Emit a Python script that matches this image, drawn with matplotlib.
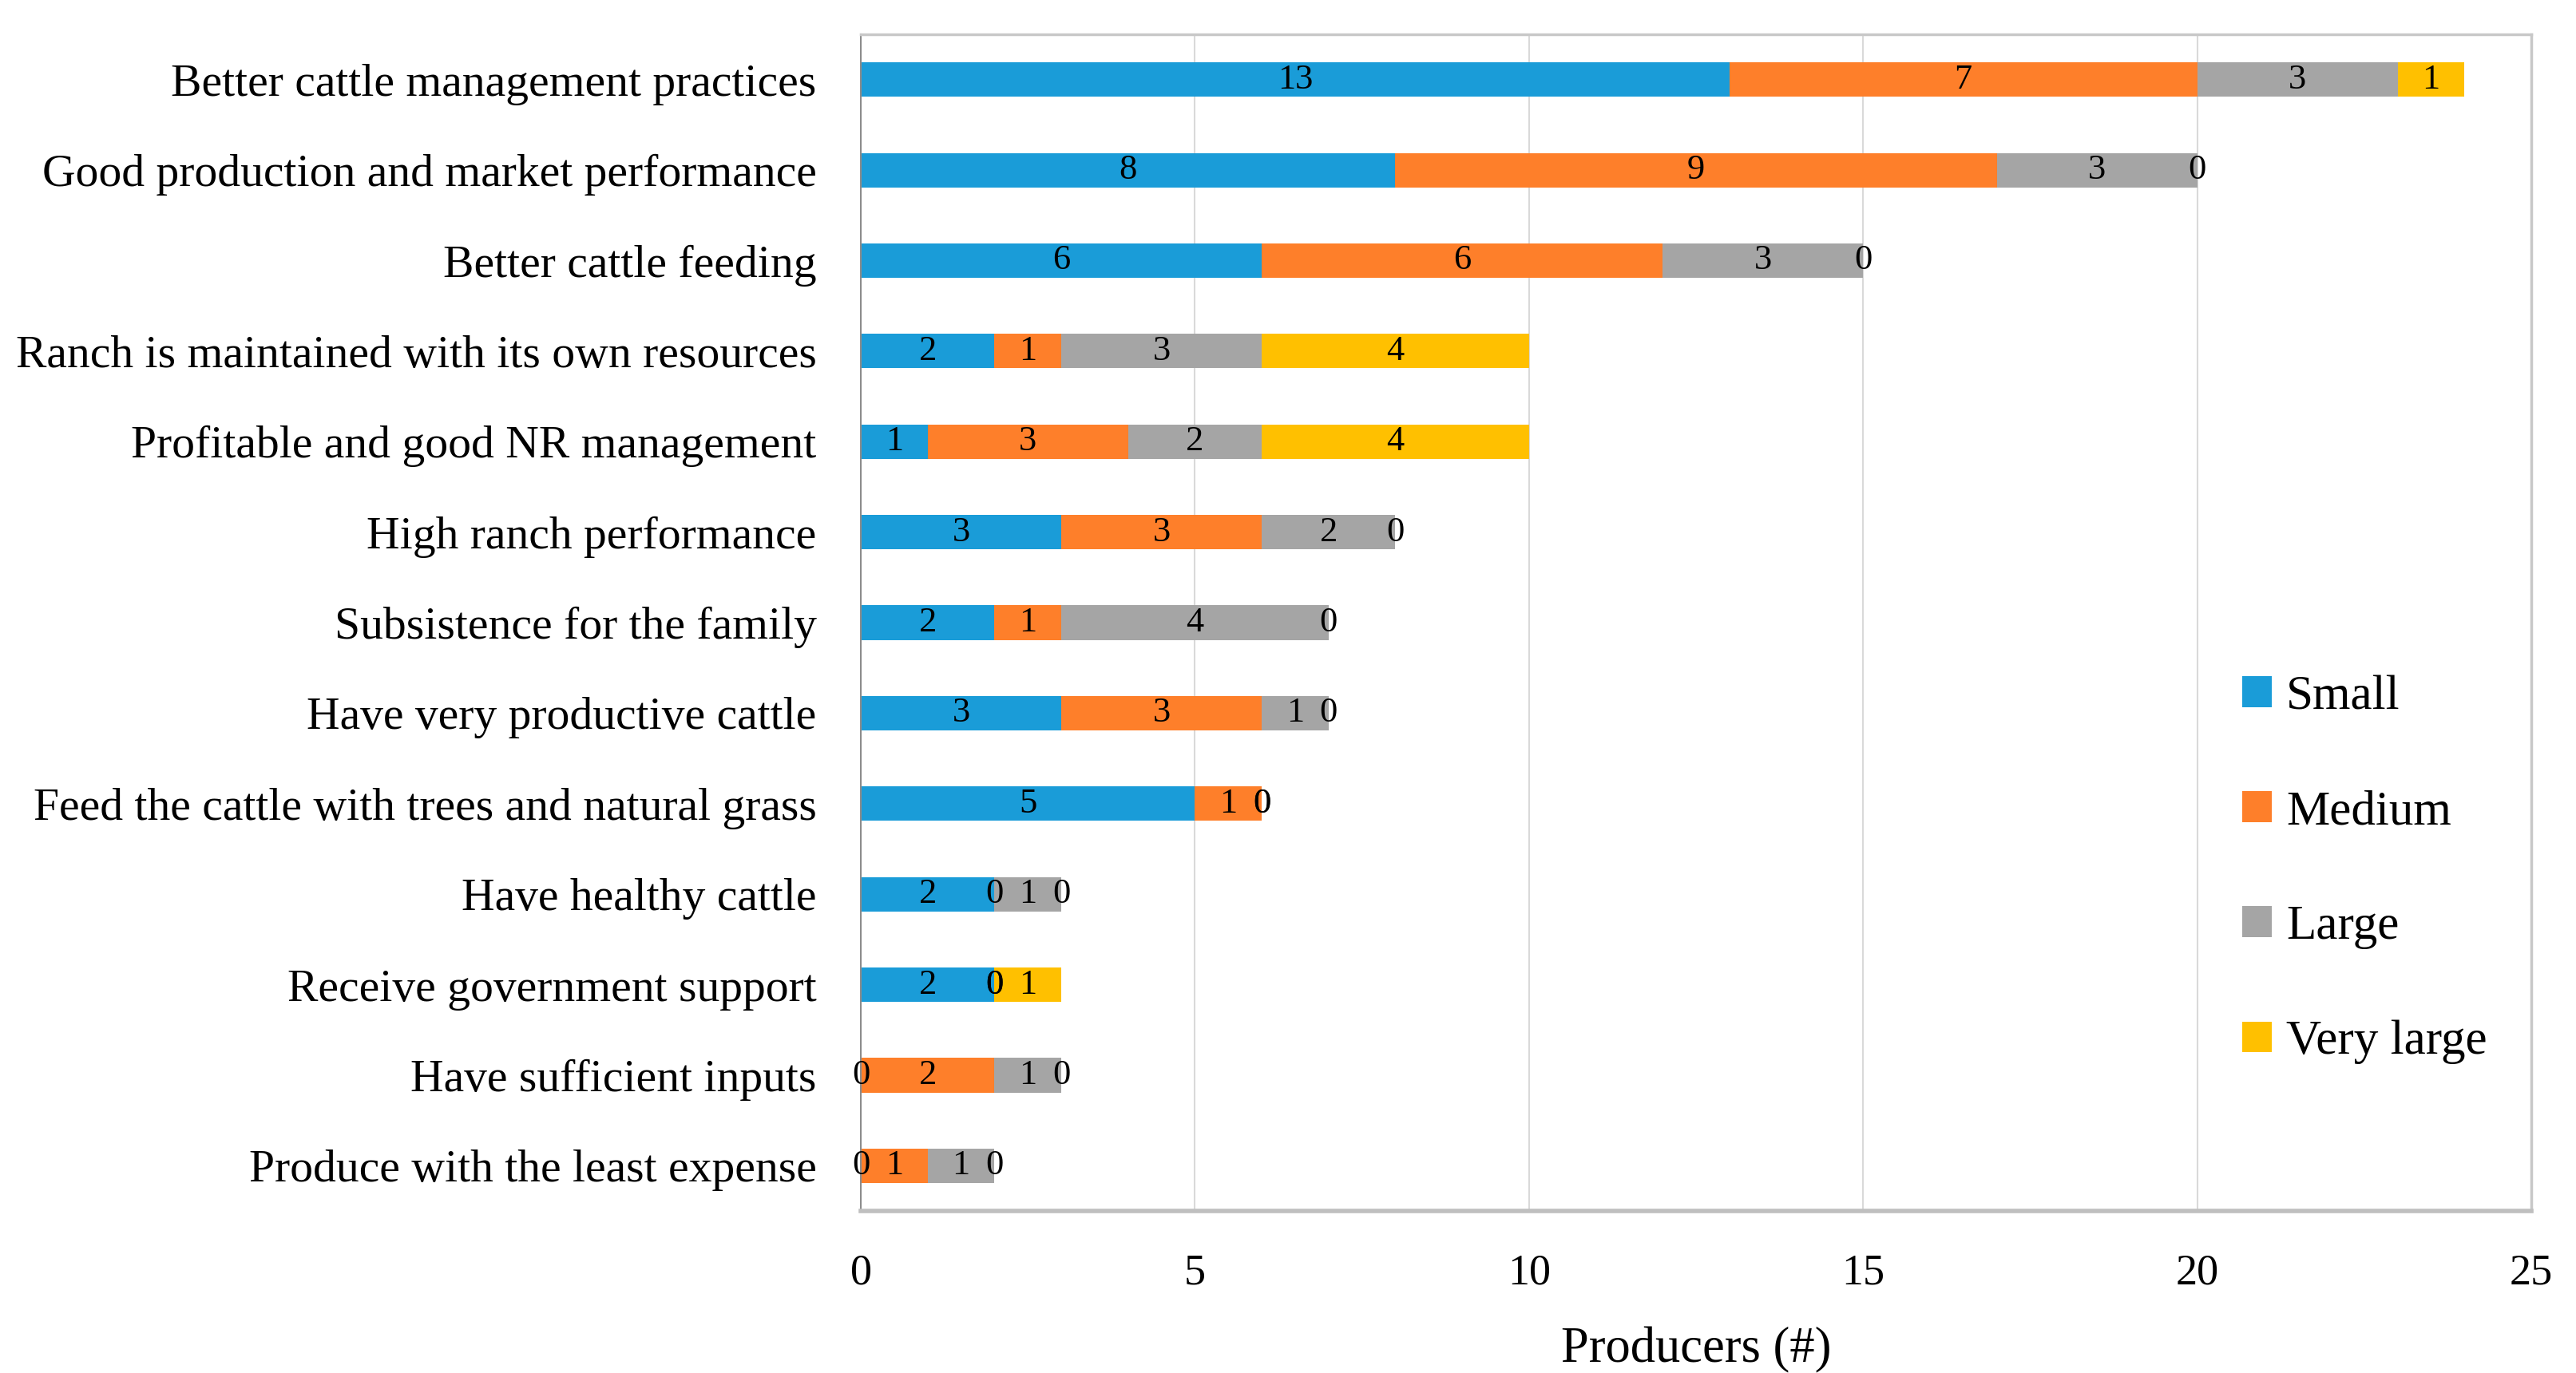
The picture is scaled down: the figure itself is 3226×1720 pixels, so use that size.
import matplotlib
matplotlib.use("Agg")
import matplotlib.pyplot as plt
import numpy as np

plt.rcParams['font.family'] = ['Liberation Serif', 'DejaVu Serif']

categories = [
    "Better cattle management practices",
    "Good production and market performance",
    "Better cattle feeding",
    "Ranch is maintained with its own resources",
    "Profitable and good NR management",
    "High ranch performance",
    "Subsistence for the family",
    "Have very productive cattle",
    "Feed the cattle with trees and natural grass",
    "Have healthy cattle",
    "Receive government support",
    "Have sufficient inputs",
    "Produce with the least expense",
]
series_names = ["Small", "Medium", "Large", "Very large"]
small = [13, 8, 6, 2, 1, 3, 2, 3, 5, 2, 2, 0, 0]
medium = [7, 9, 6, 1, 3, 3, 1, 3, 1, 0, 0, 2, 1]
large = [3, 3, 3, 3, 2, 2, 4, 1, 0, 1, 0, 1, 1]
very_large = [1, 0, 0, 4, 4, 0, 0, 0, 0, 0, 1, 0, 0]
colors = ["#1A9CD8", "#FE7F2A", "#A5A5A5", "#FFC000"]

fig = plt.figure(figsize=(32.26, 17.2), dpi=100)
ax = fig.add_axes([0.3342, 0.118, 0.6484, 0.857])

y = np.arange(len(categories))
left = np.zeros(len(categories))
for name, vals, col in zip(series_names, [small, medium, large, very_large], colors):
    vals = np.array(vals, dtype=float)
    bars = ax.barh(y, vals, left=left, height=0.38, color=col, label=name, zorder=2)
    ax.bar_label(bars, labels=[str(int(v)) for v in vals], label_type='center',
                 fontsize=32, color='black', zorder=3)
    left += vals

ax.set_ylim(len(categories) - 0.5, -0.5)
ax.set_xlim(0, 25)
ax.set_xticks([0, 5, 10, 15, 20, 25])
ax.set_yticks(y)
ax.set_yticklabels(categories, fontsize=41.5)
ax.tick_params(axis='x', labelsize=39, length=0, pad=38)
ax.tick_params(axis='y', length=0, pad=40)
ax.xaxis.grid(True, color='#D9D9D9', linewidth=1.5, zorder=0)
ax.set_axisbelow(True)

for s in ['top', 'right']:
    ax.spines[s].set_color('#C8C8C8')
    ax.spines[s].set_linewidth(2.5)
ax.spines['bottom'].set_color('#BFBFBF')
ax.spines['bottom'].set_linewidth(4)
ax.spines['left'].set_color('#8C8C8C')
ax.spines['left'].set_linewidth(1.5)

ax.set_xlabel("Producers (#)", fontsize=45, labelpad=30)

ax.legend(loc='center left', bbox_to_anchor=(0.827, 0.29), frameon=False,
          fontsize=44, handlelength=0.6, handleheight=0.6, handletextpad=0.3,
          labelspacing=1.45, borderpad=0, borderaxespad=0)

fig.savefig("out.png", dpi=100)
